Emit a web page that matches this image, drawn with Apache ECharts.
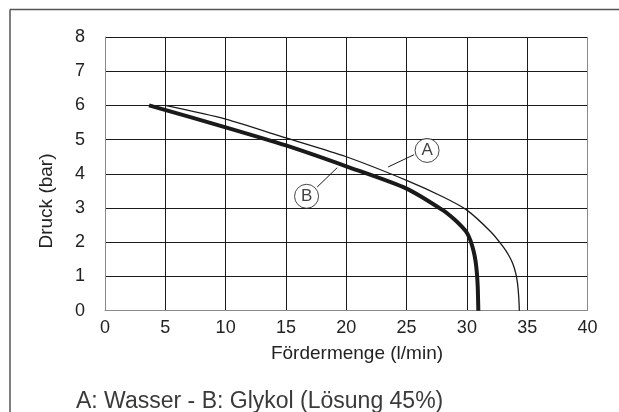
<!DOCTYPE html>
<html>
<head>
<meta charset="utf-8">
<script src="https://cdn.jsdelivr.net/npm/echarts@6/dist/echarts.min.js"></script>
<style>
  html, body { margin: 0; padding: 0; background: #fff; }
  #chart { width: 619px; height: 412px; }
</style>
</head>
<body>
<div id="chart"></div>
<script>
// Kurve A: Wasser
const flowA = [5, 10, 15, 20, 25, 28, 30, 32, 33, 33.5, 33.8, 34.05, 34.2, 34.3, 34.35]
const pressA = [6.0, 5.6, 5.05, 4.5, 3.81, 3.33, 2.94, 2.3, 1.87, 1.6, 1.38, 1.1, 0.8, 0.4, 0]

// Kurve B: Glykol
const flowB = [3.65, 10, 15, 20, 25, 28, 29, 29.6, 30, 30.3, 30.55, 30.72, 30.83, 30.9, 30.93, 30.95]
const pressB = [6.0, 5.36, 4.83, 4.22, 3.57, 2.94, 2.66, 2.45, 2.28, 2.05, 1.75, 1.45, 1.1, 0.7, 0.3, 0]

// Beschriftungen (Kreise) und Hinweislinien
const markerNames = ['A', 'B']
const markerFlow = [26.7, 16.71]
const markerPress = [4.685, 3.344]
const leaderA = [[23.47, 4.2], [25.62, 4.56]]
const leaderB = [[17.59, 3.615], [19.25, 4.18]]

const xTicks = [0, 5, 10, 15, 20, 25, 30, 35, 40]
const yTicks = [0, 1, 2, 3, 4, 5, 6, 7, 8]

const font = "'Liberation Sans', Arial, sans-serif"
const dark = '#1a1a1a'
const gray = '#8a8a8a'

const zip = (xs, ys) => xs.map((x, i) => [x, ys[i]])

const chart = echarts.init(document.getElementById('chart'), null, { renderer: 'canvas' })

const option = {
  animation: false,
  backgroundColor: '#fff',
  grid: { left: 105, right: 31.5, top: 37, bottom: 101.3 },
  xAxis: {
    type: 'value',
    min: xTicks[0],
    max: xTicks[xTicks.length - 1],
    interval: 5,
    axisLine: { show: true, lineStyle: { color: gray, width: 1 } },
    axisTick: { show: false },
    axisLabel: { margin: 8, fontSize: 18, color: '#222', fontFamily: font },
    splitLine: {
      show: true,
      lineStyle: { color: xTicks.map((t, i) => (i === 0 || i === xTicks.length - 1) ? gray : dark), width: 1 }
    }
  },
  yAxis: {
    type: 'value',
    min: yTicks[0],
    max: yTicks[yTicks.length - 1],
    interval: 1,
    axisLine: { show: true, lineStyle: { color: gray, width: 1 } },
    axisTick: { show: false },
    axisLabel: { margin: 20, fontSize: 18, color: '#222', fontFamily: font },
    splitLine: { show: true, lineStyle: { color: dark, width: 1 } }
  },
  graphic: [
    // Rahmen oben und links
    { type: 'line', shape: { x1: 10, y1: 9.5, x2: 619, y2: 9.5 }, style: { stroke: '#555', lineWidth: 1.5 } },
    { type: 'line', shape: { x1: 10, y1: 9.5, x2: 10, y2: 412 }, style: { stroke: '#555', lineWidth: 1.5 } },
    {
      type: 'text', x: 46.5, y: 201, rotation: Math.PI / 2,
      style: { text: 'Druck (bar)', fontSize: 19, fontFamily: font, fill: '#222', align: 'center', verticalAlign: 'middle' }
    },
    {
      type: 'text', x: 357, y: 354,
      style: { text: 'Fördermenge (l/min)', fontSize: 19, fontFamily: font, fill: '#222', align: 'center', verticalAlign: 'middle' }
    },
    {
      type: 'text', x: 76, y: 402,
      style: { text: 'A: Wasser - B: Glykol (Lösung 45%)', fontSize: 23, fontFamily: font, fill: '#3a3a3a', align: 'left', verticalAlign: 'middle' }
    }
  ],
  series: [
    {
      name: 'A', type: 'line', data: zip(flowA, pressA), smooth: 0.25,
      showSymbol: false, lineStyle: { color: dark, width: 1.3 }, z: 3
    },
    {
      name: 'B', type: 'line', data: zip(flowB, pressB), smooth: 0.25,
      showSymbol: false, lineStyle: { color: dark, width: 4 }, z: 4
    },
    {
      type: 'line', data: leaderA, showSymbol: false,
      lineStyle: { color: dark, width: 1 }, z: 5
    },
    {
      type: 'line', data: leaderB, showSymbol: false,
      lineStyle: { color: dark, width: 1 }, z: 5
    },
    {
      type: 'scatter',
      data: markerNames.map((n, i) => ({ name: n, value: [markerFlow[i], markerPress[i]] })),
      symbol: 'circle', symbolSize: 24,
      itemStyle: { color: '#fff', borderColor: dark, borderWidth: 1 },
      label: {
        show: true, position: 'inside', formatter: '{b}',
        fontSize: 17, fontFamily: font, color: '#111'
      },
      z: 6
    }
  ]
}

chart.setOption(option)
</script>
</body>
</html>
